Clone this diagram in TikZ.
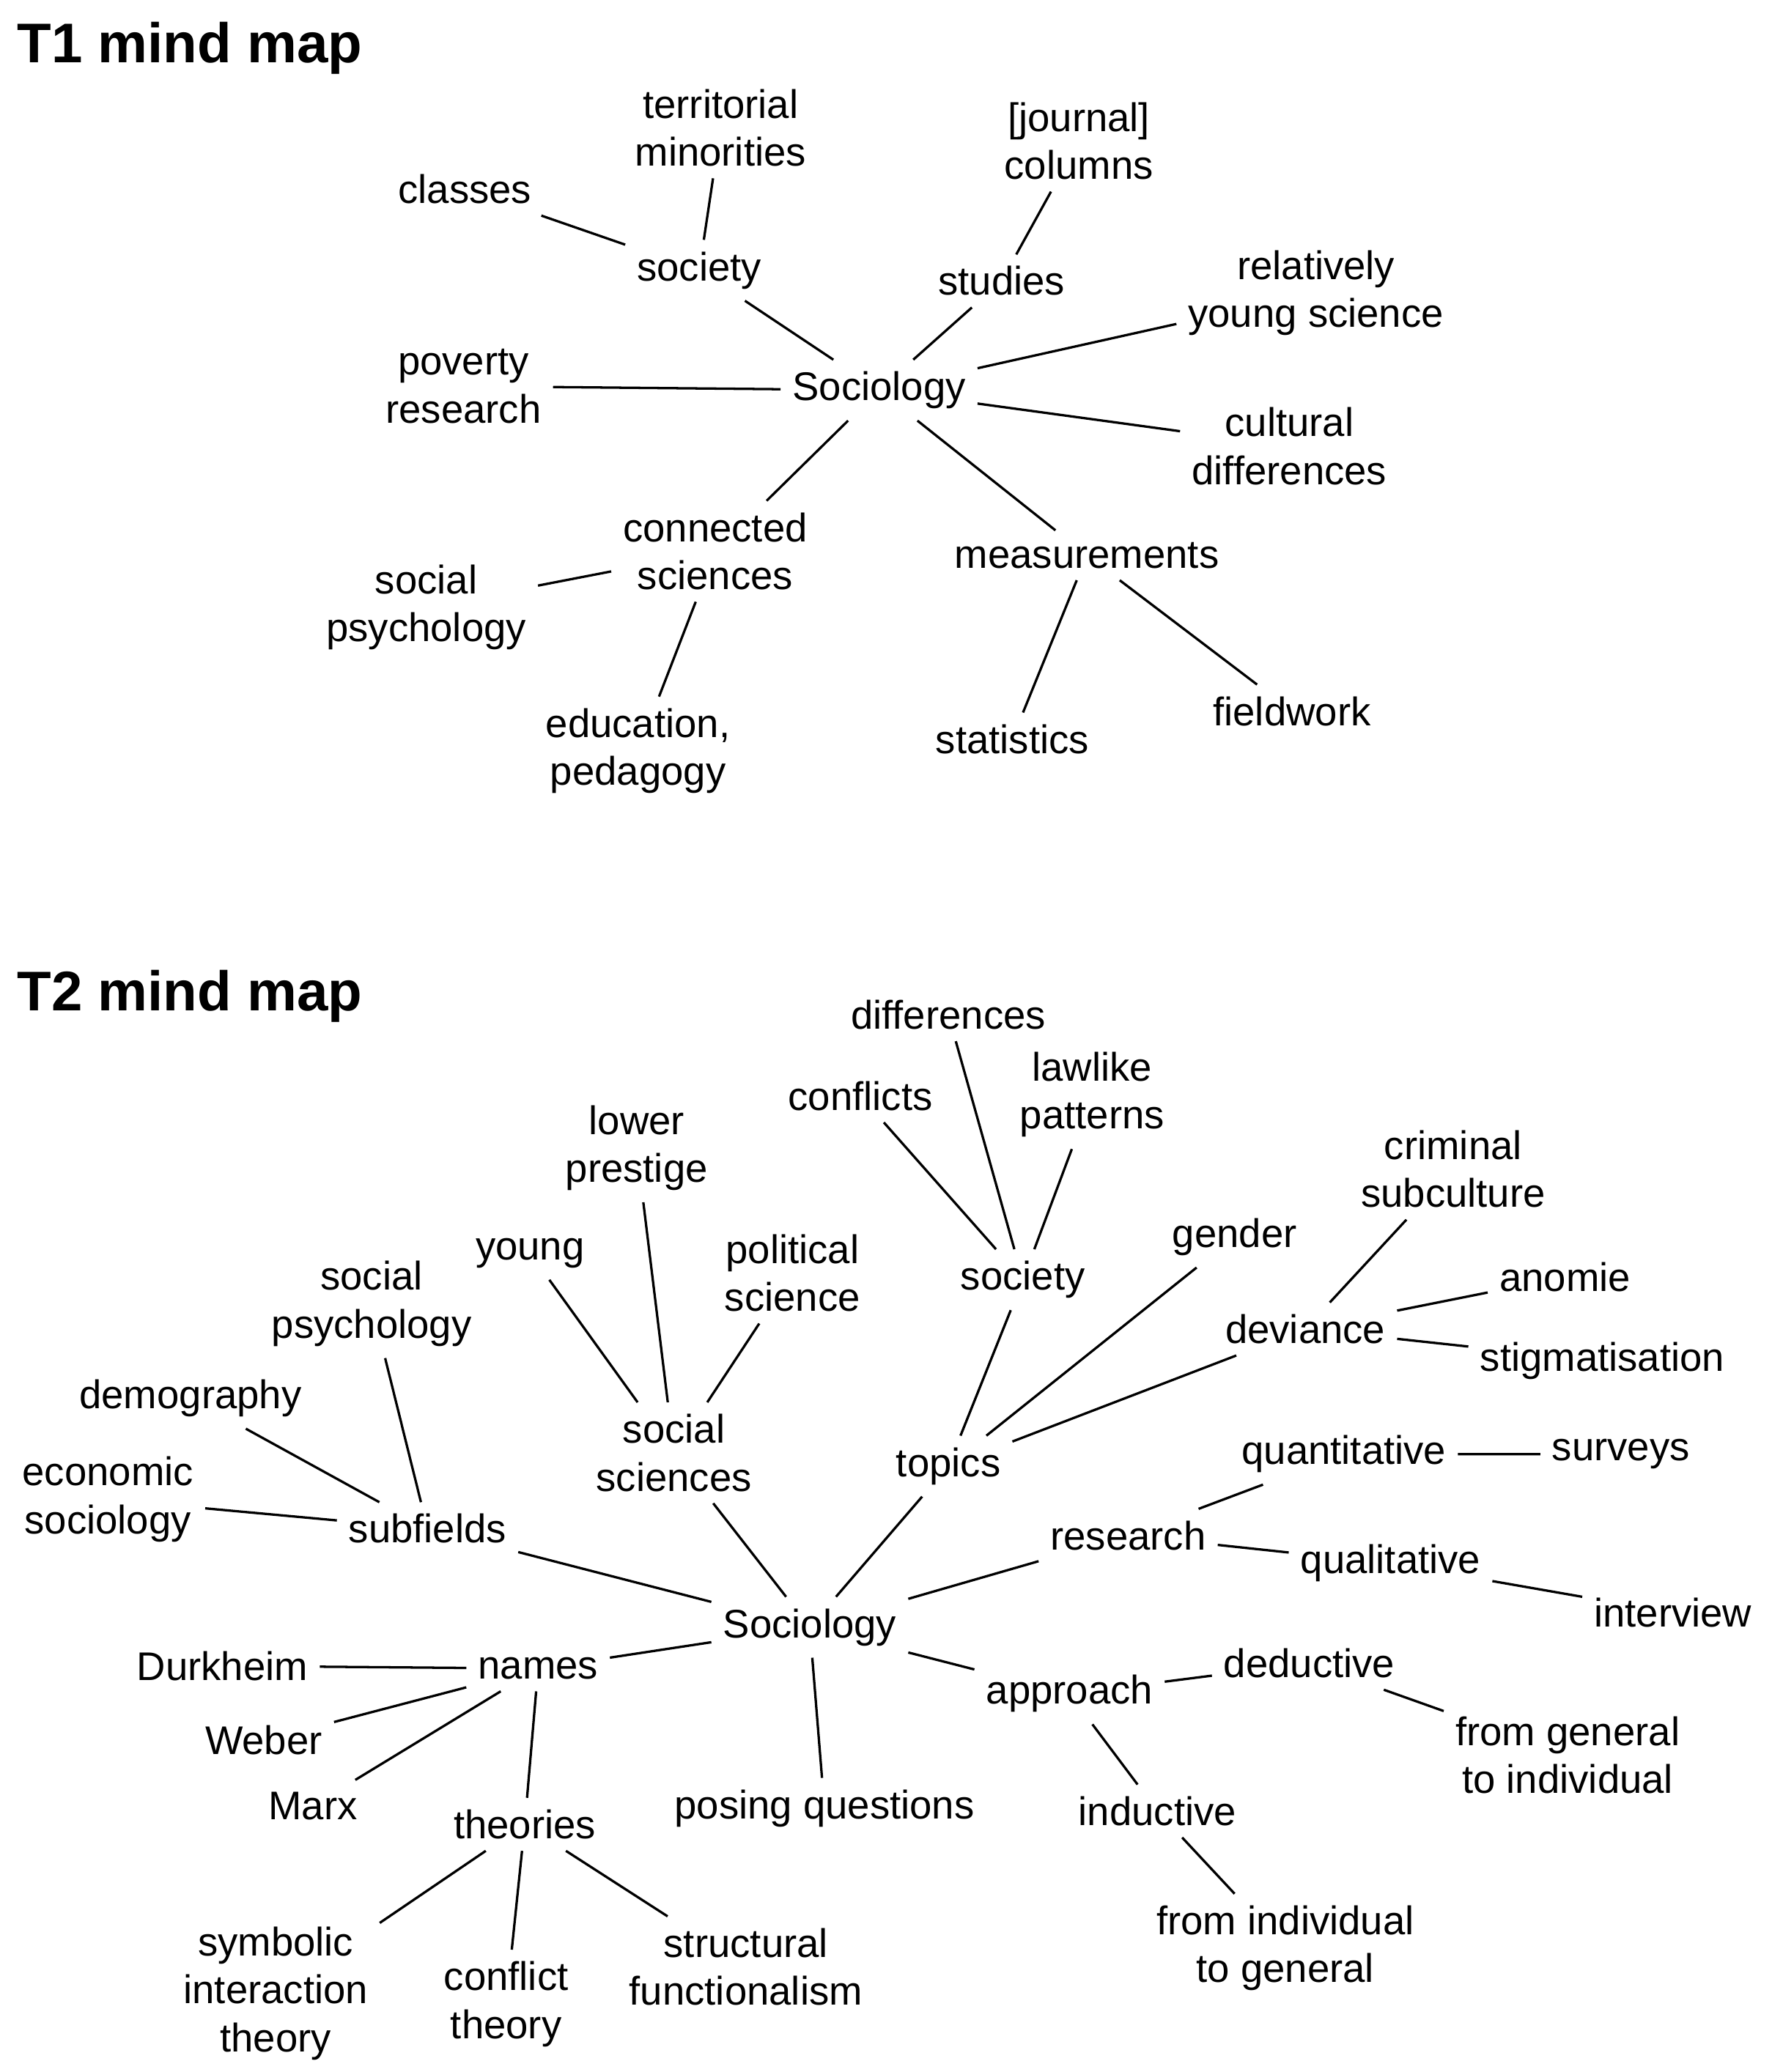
\documentclass[tikz,border=0pt]{standalone}
\usepackage{fontspec}
\setmainfont{Liberation Sans}
\begin{document}
\begin{tikzpicture}[x=0.5pt,y=-0.5pt,
  n/.style={align=center,inner sep=4pt,font=\fontsize{15}{18}\selectfont},
  t/.style={anchor=west,inner sep=0pt,font=\fontsize{21}{24}\selectfont\bfseries},
  every path/.style={line width=0.9pt}]
\useasboundingbox[fill=white] (0,0) rectangle (1330,1556);
\node[t] (t1) at (12,36) {T1 mind map};
\node[t] (t2) at (12,748) {T2 mind map};
% T1
\node[n] (s) at (660,293) {Sociology};
\node[n] (soc) at (525,203) {society};
\node[n] (ter) at (541,96) {territorial\\minorities};
\node[n] (cla) at (349,142) {classes};
\node[n] (stu) at (752,211) {studies};
\node[n] (jou) at (810,106) {[journal]\\columns};
\node[n] (rel) at (988,220) {relatively\\young science};
\node[n] (cul) at (968,335) {cultural\\differences};
\node[n] (pov) at (348,290) {poverty\\research};
\node[n] (con) at (537,414) {connected\\sciences};
\node[n] (sps) at (320,456) {social\\psychology};
\node[n] (edu) at (479,564) {education,\\pedagogy};
\node[n] (mea) at (816,417) {measurements};
\node[n] (sta) at (760,555) {statistics};
\node[n] (fie) at (970,534) {fieldwork};
\draw (s)--(soc) (soc)--(ter) (soc)--(cla) (s)--(stu) (stu)--(jou) (s)--(rel)
 (s)--(cul) (s)--(pov) (s)--(con) (con)--(sps) (con)--(edu) (s)--(mea)
 (mea)--(sta) (mea)--(fie);
% T2
\node[n] (S) at (608,1222) {Sociology};
\node[n] (sub) at (321,1148) {subfields};
\node[n] (eco) at (81,1126) {economic\\sociology};
\node[n] (dem) at (143,1050) {demography};
\node[n] (sp2) at (279,979) {social\\psychology};
\node[n] (ssc) at (506,1091) {social\\sciences};
\node[n] (you) at (398,941) {young};
\node[n] (low) at (478,862) {lower\\prestige};
\node[n] (pol) at (595,956) {political\\science};
\node[n] (top) at (712,1101) {topics};
\node[n] (so2) at (768,961) {society};
\node[n] (cnf) at (646,823) {conflicts};
\node[n] (dif) at (712,762) {differences};
\node[n] (law) at (820,822) {lawlike\\patterns};
\node[n] (gen) at (927,929) {gender};
\node[n] (dev) at (980,998) {deviance};
\node[n] (cri) at (1091,878) {criminal\\subculture};
\node[n] (ano) at (1175,959) {anomie};
\node[n] (sti) at (1203,1022) {stigmatisation};
\node[n] (res) at (847,1153) {research};
\node[n] (qua) at (1009,1092) {quantitative};
\node[n] (sur) at (1217,1092) {surveys};
\node[n] (qul) at (1044,1174) {qualitative};
\node[n] (int) at (1256,1211) {interview};
\node[n] (app) at (803,1272) {approach};
\node[n] (ded) at (983,1249) {deductive};
\node[n] (fgi) at (1177,1318) {from general\\to individual};
\node[n] (ind) at (869,1360) {inductive};
\node[n] (fig) at (965,1463) {from individual\\to general};
\node[n] (pos) at (619,1358) {posing questions};
\node[n] (nam) at (404,1253) {names};
\node[n] (dur) at (167,1251) {Durkheim};
\node[n] (web) at (198,1307) {Weber};
\node[n] (mar) at (235,1356) {Marx};
\node[n] (the) at (394,1370) {theories};
\node[n] (sym) at (207,1497) {symbolic\\interaction\\theory};
\node[n] (ctt) at (380,1505) {conflict\\theory};
\node[n] (str) at (560,1477) {structural\\functionalism};
\draw (S)--(sub) (sub)--(eco) (sub)--(dem) (sub)--(sp2)
 (S)--(ssc) (ssc)--(you) (ssc)--(low) (ssc)--(pol)
 (S)--(top) (top)--(so2) (so2)--(cnf) (so2)--(dif) (so2)--(law)
 (top)--(gen) (top)--(dev) (dev)--(cri) (dev)--(ano) (dev)--(sti)
 (S)--(res) (res)--(qua) (qua)--(sur) (res)--(qul) (qul)--(int)
 (S)--(app) (app)--(ded) (ded)--(fgi) (app)--(ind) (ind)--(fig)
 (S)--(pos) (S)--(nam) (nam)--(dur) (nam)--(web) (nam)--(mar) (nam)--(the)
 (the)--(sym) (the)--(ctt) (the)--(str);
\end{tikzpicture}
\end{document}
